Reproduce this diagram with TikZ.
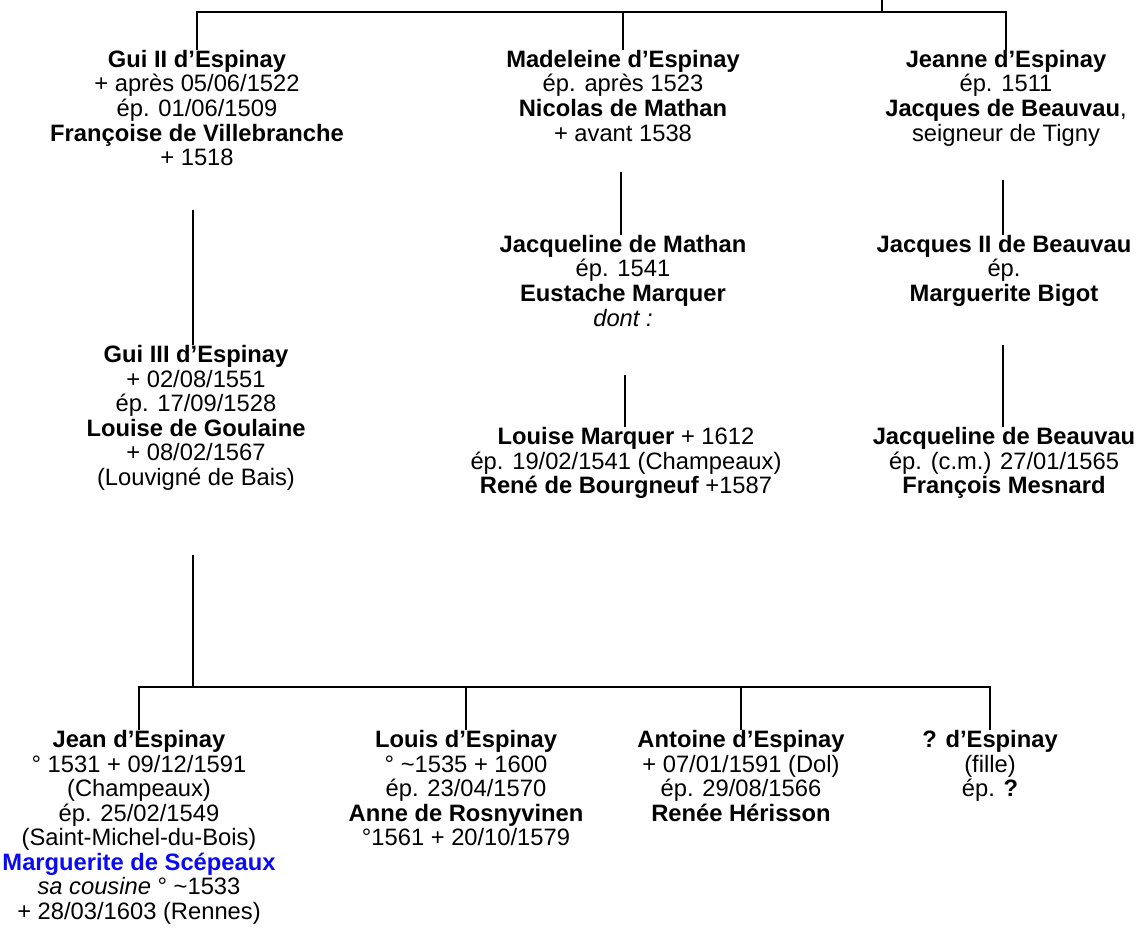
\documentclass[tikz,border=0pt]{standalone}
\usepackage{fontspec}
\setmainfont{Liberation Sans}
\usepackage{xcolor}
\definecolor{mblue}{RGB}{10,10,245}
\begin{document}
\begin{tikzpicture}[x=0.75pt,y=-0.75pt,
  person/.style={anchor=north,align=center,inner sep=0pt,font=\fontsize{17.8}{18.4}\selectfont},
  link/.style={line width=1.8pt}]
\useasboundingbox (0,0) rectangle (1141,952);
% generation 1
\node[person] (g2) at (197,50) {\textbf{Gui II d’Espinay}\\+ après 05/06/1522\\ép. 01/06/1509\\\textbf{Françoise de Villebranche}\\+ 1518};
\node[person] (mad) at (623,50) {\textbf{Madeleine d’Espinay}\\ép. après 1523\\\textbf{Nicolas de Mathan}\\+ avant 1538};
\node[person] (jea) at (1006,50) {\textbf{Jeanne d’Espinay}\\ép. 1511\\\textbf{Jacques de Beauvau},\\seigneur de Tigny};
% generation 2
\node[person] (g3) at (196,345) {\textbf{Gui III d’Espinay}\\+ 02/08/1551\\ép. 17/09/1528\\\textbf{Louise de Goulaine}\\+ 08/02/1567\\(Louvigné de Bais)};
\node[person] (jm) at (623,235) {\textbf{Jacqueline de Mathan}\\ép. 1541\\\textbf{Eustache Marquer}\\\textit{dont :}};
\node[person] (jb2) at (1004,235) {\textbf{Jacques II de Beauvau}\\ép.\\\textbf{Marguerite Bigot}};
% generation 3
\node[person] (lm) at (626,427) {\textbf{Louise Marquer} + 1612\\ép. 19/02/1541 (Champeaux)\\\textbf{René de Bourgneuf} +1587};
\node[person] (jbv) at (1004,427) {\textbf{Jacqueline de Beauvau}\\ép. (c.m.) 27/01/1565\\\textbf{François Mesnard}};
% children of Gui III
\node[person] (jean) at (139,730) {\textbf{Jean d’Espinay}\\° 1531 + 09/12/1591\\(Champeaux)\\ép. 25/02/1549\\(Saint-Michel-du-Bois)\\\textcolor{mblue}{\textbf{Marguerite de Scépeaux}}\\\textit{sa cousine} ° \textasciitilde1533\\+ 28/03/1603 (Rennes)};
\node[person] (louis) at (466,730) {\textbf{Louis d’Espinay}\\° \textasciitilde1535 + 1600\\ép. 23/04/1570\\\textbf{Anne de Rosnyvinen}\\°1561 + 20/10/1579};
\node[person] (ant) at (741,730) {\textbf{Antoine d’Espinay}\\+ 07/01/1591 (Dol)\\ép. 29/08/1566\\\textbf{Renée Hérisson}};
\node[person] (unk) at (990,730) {\textbf{? d’Espinay}\\(fille)\\ép. \textbf{?}};
% top bus
\coordinate (topin) at (882,0);
\coordinate (topbus) at (882,12);
\draw[link] (topin) -- (topbus);
\draw[link] (g2.north) -- (g2.north |- topbus) -- (jea.north |- topbus) -- (jea.north);
\draw[link] (mad.north |- topbus) -- (mad.north);
% descent lines
\coordinate (a1) at (193,210);
\draw[link] (a1) -- (a1 |- g3.north);
\coordinate (a2) at (621,172);
\draw[link] (a2) -- (a2 |- jm.north);
\coordinate (a3) at (625,375);
\draw[link] (a3) -- (a3 |- lm.north);
\coordinate (a4) at (1003,180);
\draw[link] (a4) -- (a4 |- jb2.north);
\coordinate (a5) at (1003,345);
\draw[link] (a5) -- (a5 |- jbv.north);
% children bus
\coordinate (a6) at (193,555);
\coordinate (cbus) at (193,687);
\draw[link] (a6) -- (cbus);
\draw[link] (jean.north) -- (jean.north |- cbus) -- (unk.north |- cbus) -- (unk.north);
\draw[link] (louis.north |- cbus) -- (louis.north);
\draw[link] (ant.north |- cbus) -- (ant.north);
\end{tikzpicture}
\end{document}
